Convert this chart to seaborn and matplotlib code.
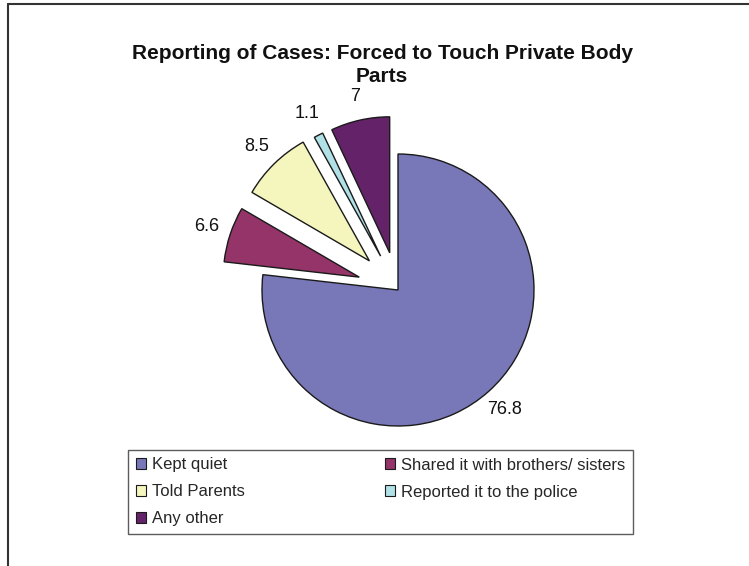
import matplotlib
matplotlib.use("Agg")
import matplotlib.pyplot as plt
from matplotlib.lines import Line2D
import seaborn as sns

categories = ["Kept quiet", "Shared it with brothers/ sisters", "Told Parents",
              "Reported it to the police", "Any other"]
values = [76.8, 6.6, 8.5, 1.1, 7]
value_labels = ["76.8", "6.6", "8.5", "1.1", "7"]
colors = ["#7878B8", "#943468", "#F5F5BE", "#AFE1E6", "#642369"]

sns.set_theme(style="white")
plt.rcParams['font.family'] = ['Liberation Sans', 'DejaVu Sans']

W, H = 749, 566
fig = plt.figure(figsize=(W / 100, H / 100), dpi=100)

# pie axes: centre at (398, 290) px, radius 136 px
cx, cy, side = 398, 290, 340
ax = fig.add_axes([(cx - side / 2) / W, 1 - (cy + side / 2) / H, side / W, side / H])
wedges, texts = ax.pie(
    values, labels=value_labels, colors=colors, startangle=90, counterclock=False,
    explode=[0, 0.3, 0.3, 0.28, 0.28], labeldistance=1.18,
    wedgeprops=dict(edgecolor="#1a1a1a", linewidth=1.0),
    textprops=dict(fontsize=13, color="#111111"),
)
for t in texts:
    t.set_ha("center")
    t.set_va("center")
ax.set_xlim(-1.25, 1.25)
ax.set_ylim(-1.25, 1.25)
ax.set_aspect("equal")
ax.axis("off")

fig.text(382 / W, 1 - 65 / H, "Reporting of Cases: Forced to Touch Private Body\nParts",
         ha="center", va="center", fontsize=15, fontweight="bold", linespacing=1.32,
         color="#111111")

# legend filled row by row: reorder for matplotlib's column-major fill
order = [0, 2, 4, 1, 3]
leg = fig.legend(
    [wedges[i] for i in order], [categories[i] for i in order],
    loc="upper left", ncol=2, mode="expand",
    bbox_to_anchor=(128 / W, 1 - 450 / H, 505 / W, 0.0), borderaxespad=0,
    fontsize=12, frameon=True, fancybox=False, handlelength=0.65, handleheight=0.65,
    handletextpad=0.35, labelspacing=0.72, borderpad=0.45,
)
leg.get_frame().set_edgecolor("#333333")
leg.get_frame().set_linewidth(1.0)
for h in leg.legend_handles:
    h.set_linewidth(0.8)

# outer frame (top and left edges)
fig.add_artist(Line2D([8 / W, 1], [1 - 4 / H, 1 - 4 / H], color="#333333", lw=1.5))
fig.add_artist(Line2D([8 / W, 8 / W], [0, 1 - 4 / H], color="#333333", lw=1.5))

fig.savefig("out.png", dpi=100)
